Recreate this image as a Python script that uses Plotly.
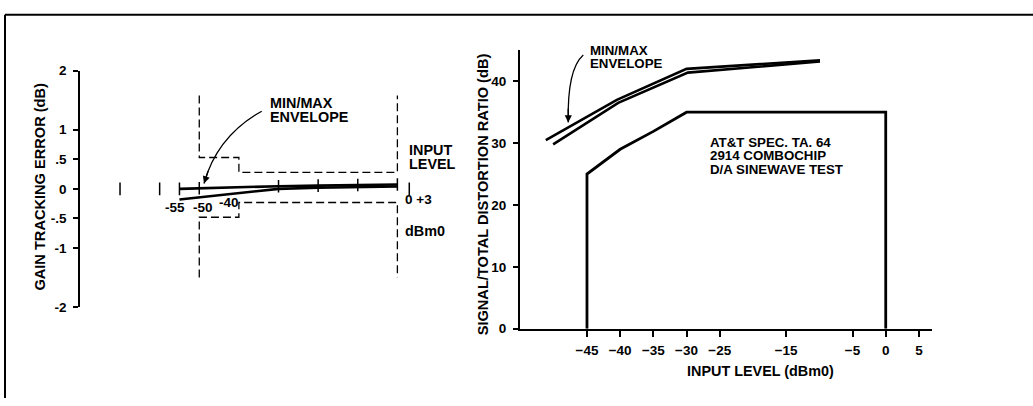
import plotly.graph_objects as go

# ---------------- data ----------------
# Left panel: gain tracking error (dB) vs input level (dBm0)
gte_levels = [-55, -50, -40, -30, -20, -10, 0]
gte_max = [0.00, 0.01, 0.025, 0.045, 0.055, 0.065, 0.075]
gte_min = [-0.18, -0.145, -0.075, 0.0, 0.02, 0.03, 0.04]
gte_marker_levels = [-55, -50, -30, -20, -10, 0]
gte_marker_vals = [0.00, 0.01, 0.045, 0.055, 0.065, 0.075]
gte_axis_ticks = [-70, -60, 3]
gte_level_labels = ["-55", "-50", "-40", "0 +3"]
gte_level_label_pos = [-56.1, -49.0, -42.4, 1.4]
gte_level_label_val = [-0.316, -0.316, -0.225, -0.18]

# spec mask (dashed)
mask_upper_x = [-50, -50, -40, -40, 0, 0]
mask_upper_y = [1.58, 0.53, 0.53, 0.28, 0.28, 1.58]
mask_lower_x = [-50, -50, -40, -40, 0, 0]
mask_lower_y = [-1.5, -0.48, -0.48, -0.23, -0.23, -1.5]

gte_yticks = [2, 1, 0.5, 0, -0.5, -1, -2]
gte_yticklabels = ["2", "1", ".5", "0", "-.5", "-1", "-2"]

# Right panel: signal/total distortion ratio
sd_max_x = [-51.2, -40.5, -30, -9.9]
sd_max_y = [30.5, 37.0, 42.0, 43.4]
sd_min_x = [-50.1, -40.3, -29.8, -9.9]
sd_min_y = [29.8, 36.5, 41.4, 43.2]
spec_x = [-45, -45, -40, -35, -30, 0, 0]
spec_y = [0, 25, 29, 31.9, 35, 35, 0]

sd_xticks = [-45, -40, -35, -30, -25, -15, -5, 0, 5]
sd_yticks = [0, 10, 20, 30, 40]

W, H = 1033, 406
FONT = "Liberation Sans"


def px(xp):
    return xp / W


def py(yp):
    return 1 - yp / H


fig = go.Figure()

# ---- left panel traces ----
dash = "8px,4px"
fig.add_trace(go.Scatter(x=mask_upper_x, y=mask_upper_y, mode="lines",
                         line=dict(color="black", width=1.3, dash=dash),
                         xaxis="x", yaxis="y", showlegend=False, hoverinfo="skip"))
fig.add_trace(go.Scatter(x=mask_lower_x, y=mask_lower_y, mode="lines",
                         line=dict(color="black", width=1.3, dash=dash),
                         xaxis="x", yaxis="y", showlegend=False, hoverinfo="skip"))
fig.add_trace(go.Scatter(x=gte_levels, y=gte_min, mode="lines",
                         line=dict(color="black", width=2.6),
                         xaxis="x", yaxis="y", showlegend=False))
fig.add_trace(go.Scatter(x=gte_levels, y=gte_max, mode="lines",
                         line=dict(color="black", width=2.6),
                         xaxis="x", yaxis="y", showlegend=False))
fig.add_trace(go.Scatter(x=gte_marker_levels, y=gte_marker_vals, mode="markers",
                         marker=dict(symbol="line-ns", size=9,
                                     line=dict(color="black", width=1.5)),
                         xaxis="x", yaxis="y", showlegend=False))
fig.add_trace(go.Scatter(x=gte_axis_ticks, y=[0] * len(gte_axis_ticks), mode="markers",
                         marker=dict(symbol="line-ns", size=9,
                                     line=dict(color="black", width=1.5)),
                         xaxis="x", yaxis="y", showlegend=False))

# ---- right panel traces ----
fig.add_trace(go.Scatter(x=spec_x, y=spec_y, mode="lines",
                         line=dict(color="black", width=2.8),
                         xaxis="x2", yaxis="y2", showlegend=False))
fig.add_trace(go.Scatter(x=sd_max_x, y=sd_max_y, mode="lines",
                         line=dict(color="black", width=2.6),
                         xaxis="x2", yaxis="y2", showlegend=False))
fig.add_trace(go.Scatter(x=sd_min_x, y=sd_min_y, mode="lines",
                         line=dict(color="black", width=2.6),
                         xaxis="x2", yaxis="y2", showlegend=False))

bold = lambda s: "<b>" + s + "</b>"

annotations = []
# left y-axis title
annotations.append(dict(text=bold("GAIN TRACKING ERROR (dB)"), xref="paper", yref="paper",
                        x=px(40), y=py(186.5), textangle=-90, showarrow=False,
                        xanchor="center", yanchor="middle",
                        font=dict(size=14.6, color="black", family=FONT)))
# right y-axis title
annotations.append(dict(text=bold("SIGNAL/TOTAL DISTORTION RATIO (dB)"), xref="paper", yref="paper",
                        x=px(483), y=py(194.5), textangle=-90, showarrow=False,
                        xanchor="center", yanchor="middle",
                        font=dict(size=14.6, color="black", family=FONT)))
# right x-axis title
annotations.append(dict(text=bold("INPUT LEVEL (dBm0)"), xref="paper", yref="paper",
                        x=px(760), y=py(378), showarrow=False,
                        xanchor="center", yanchor="middle",
                        font=dict(size=14.4, color="black", family=FONT)))

# left panel level labels
for lab, xv, yv in zip(gte_level_labels, gte_level_label_pos, gte_level_label_val):
    anchor = "left" if "+" in lab else "center"
    annotations.append(dict(text=bold(lab), xref="x", yref="y", x=xv, y=yv, showarrow=False,
                            xanchor=anchor, yanchor="middle",
                            font=dict(size=13.5, color="black", family=FONT)))

left_texts = [("MIN/MAX", -32.65, 1.448), ("ENVELOPE", -32.65, 1.22),
              ("INPUT", 2.45, 0.661), ("LEVEL", 2.45, 0.427), ("dBm0", 1.44, -0.713)]
for t, xv, yv in left_texts:
    annotations.append(dict(text=bold(t), xref="x", yref="y", x=xv, y=yv, showarrow=False,
                            xanchor="left", yanchor="middle",
                            font=dict(size=14.4, color="black", family=FONT)))

# right panel texts (paper coords for the ones near the top edge)
right_paper_texts = [("MIN/MAX", 588, 45), ("ENVELOPE", 588, 58.3)]
for t, xp_, yp_ in right_paper_texts:
    annotations.append(dict(text=bold(t), xref="paper", yref="paper", x=px(xp_), y=py(yp_),
                            showarrow=False, xanchor="left", yanchor="middle",
                            font=dict(size=13.3, color="black", family=FONT)))
right_texts = [("AT&amp;T SPEC. TA. 64", -26.77, 30.17), ("2914 COMBOCHIP", -26.77, 27.94),
               ("D/A SINEWAVE TEST", -26.77, 25.71)]
for t, xv, yv in right_texts:
    annotations.append(dict(text=bold(t), xref="x2", yref="y2", x=xv, y=yv, showarrow=False,
                            xanchor="left", yanchor="middle",
                            font=dict(size=13.3, color="black", family=FONT)))


def qpoint(p0, c, p2, t):
    return ((1 - t) ** 2 * p0[0] + 2 * (1 - t) * t * c[0] + t ** 2 * p2[0],
            (1 - t) ** 2 * p0[1] + 2 * (1 - t) * t * c[1] + t ** 2 * p2[1])


shapes = []
arrows = [(("x", "y"), (-34.24, 1.313), (-45.48, 0.891), (-48.81, 0.091)),
          (("x2", "y2"), (-45.56, 44.25), (-48.01, 41.92), (-47.82, 33.35))]
for (xr, yr), p0, c, p2 in arrows:
    shapes.append(dict(type="path", xref=xr, yref=yr,
                       path=f"M {p0[0]},{p0[1]} Q {c[0]},{c[1]} {p2[0]},{p2[1]}",
                       line=dict(color="black", width=1.3)))
    back = qpoint(p0, c, p2, 0.85)
    annotations.append(dict(x=p2[0], y=p2[1], ax=back[0], ay=back[1], xref=xr, yref=yr,
                            axref=xr, ayref=yr, text="", showarrow=True,
                            arrowhead=2, arrowsize=1.1, arrowwidth=1.3, arrowcolor="black"))

# frame (top and left border)
shapes.append(dict(type="line", xref="paper", yref="paper", x0=px(5), x1=1.0, y0=py(8), y1=py(8),
                   line=dict(color="black", width=2)))
shapes.append(dict(type="line", xref="paper", yref="paper", x0=px(5), x1=px(5), y0=py(8), y1=0,
                   line=dict(color="black", width=2)))

tickfont = dict(size=13.5, color="black", family=FONT)
MINUS = "\u2212"


def fmt(v):
    return bold(str(v).replace("-", MINUS))


fig.update_layout(
    width=W, height=H,
    margin=dict(l=0, r=0, t=0, b=0),
    paper_bgcolor="white", plot_bgcolor="white",
    font=dict(family=FONT, color="black"),
    showlegend=False,
    xaxis=dict(domain=[px(80), px(460)], range=[-80.1, 15.8], visible=False),
    yaxis=dict(domain=[py(311.7), py(66)], range=[-2, 2], anchor="x",
               showline=True, linecolor="black", linewidth=1.5,
               ticks="outside", ticklen=5, tickwidth=1.5, tickcolor="black",
               tickvals=gte_yticks, ticktext=[bold(t) for t in gte_yticklabels],
               tickfont=tickfont, showgrid=False, zeroline=False, ticklabelstandoff=4),
    xaxis2=dict(domain=[px(520), px(932)], range=[-55.09, 6.97], anchor="y2",
                showline=True, linecolor="black", linewidth=2,
                ticks="outside", ticklen=6, tickwidth=1.5, tickcolor="black",
                tickvals=sd_xticks, ticktext=[fmt(v) for v in sd_xticks],
                tickfont=tickfont, showgrid=False, zeroline=False, ticklabelstandoff=2),
    yaxis2=dict(domain=[py(334), py(45)], range=[0, 45], anchor="x2",
                showline=True, linecolor="black", linewidth=2,
                ticks="outside", ticklen=5, tickwidth=1.5, tickcolor="black",
                tickvals=sd_yticks, ticktext=[fmt(v) for v in sd_yticks],
                tickfont=tickfont, showgrid=False, zeroline=False, ticklabelstandoff=4),
    annotations=annotations,
    shapes=shapes,
)

fig.write_html("out.html", config={"displayModeBar": False},
               post_script="document.body.style.margin='0';"
                           "document.body.style.overflow='hidden';")
